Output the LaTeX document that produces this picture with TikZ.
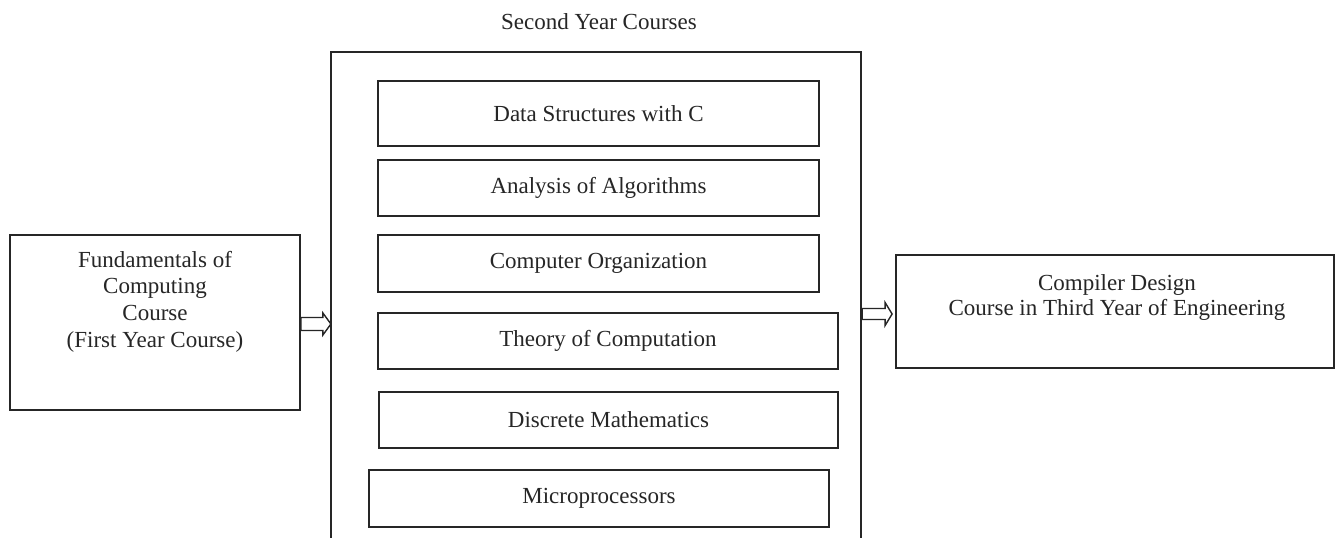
\documentclass[tikz,border=0pt]{standalone}
\usepackage{fontspec}
\setmainfont{Liberation Serif}
\usetikzlibrary{calc}
\definecolor{ink}{HTML}{262626}
\begin{document}
\begin{tikzpicture}[x=1pt,y=-1pt,
  box/.style={draw=ink, line width=1.8pt, inner sep=0pt},
  lbl/.style={text=ink, font=\fontsize{23}{26.7}\selectfont, align=center, inner sep=0pt},
  arrowbox/.style={draw=ink, line width=1.4pt, line join=miter}]
\useasboundingbox (0,0) rectangle (1336,538);
\fill[white] (0,0) rectangle (1336,538);
\begin{scope}
\clip (0,0) rectangle (1336,538);
% outer box (extends beyond the bottom edge)
\node[box, minimum width=530, minimum height=510] (big) at (596,307) {};
\end{scope}
\node[lbl] (title) at (599,22) {Second Year Courses};
% inner course boxes
\node[box, minimum width=441, minimum height=65] (ds) at (598.5,113.5) {};
\node[lbl] at (ds.center) {Data Structures with C};
\node[box, minimum width=441, minimum height=56] (aa) at (598.5,188) {};
\node[lbl] at (aa.center) {Analysis of Algorithms};
\node[box, minimum width=441, minimum height=57] (co) at (598.5,263.5) {};
\node[lbl] at (co.center) {Computer Organization};
\node[box, minimum width=460, minimum height=56] (toc) at (608,341) {};
\node[lbl] at (toc.center) {Theory of Computation};
\node[box, minimum width=459, minimum height=56] (dm) at (608.5,420) {};
\node[lbl] at (dm.center) {Discrete Mathematics};
\node[box, minimum width=460, minimum height=57] (mp) at (599,498.5) {};
\node[lbl] at (mp.center) {Microprocessors};
% left box
\node[box, minimum width=290, minimum height=175] (fund) at (155,322.5) {};
\node[lbl] at (155,301.5) {Fundamentals of\\Computing\\Course\\(First Year Course)};
% right box
\node[box, minimum width=438, minimum height=113] (comp) at (1115,311.5) {};
\node[lbl, font=\fontsize{23}{25}\selectfont] at (1117,297) {Compiler Design\\Course in Third Year of Engineering};
% block arrows
\draw[arrowbox] ($(fund.east)+(0,1.5)$) ++(0,-6.5) -- ++(22,0) -- ++(0,-4.5) -- ++(8,11)
  -- ++(-8,11) -- ++(0,-4.5) -- ++(-22,0) -- cycle;
\draw[arrowbox] ($(comp.west)+(-3,2.5)$) -- ++(-7,-11.5) -- ++(0,6) -- ++(-23,0) -- ++(0,11)
  -- ++(23,0) -- ++(0,6) -- cycle;
\end{tikzpicture}
\end{document}
